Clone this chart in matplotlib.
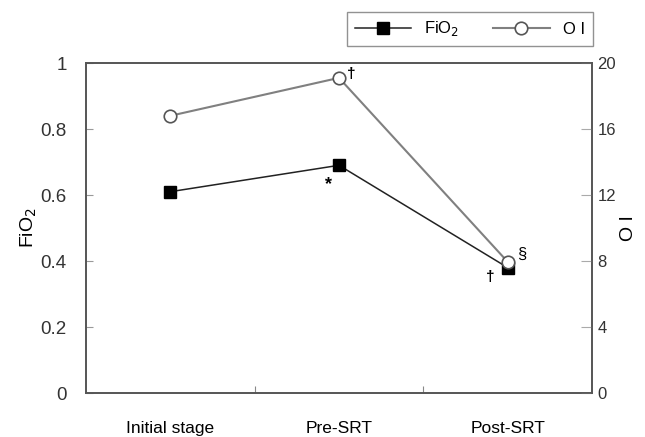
import matplotlib
matplotlib.use("Agg")
import matplotlib.pyplot as plt

plt.rcParams['font.family'] = ['Liberation Sans', 'DejaVu Sans']

categories = ["Initial stage", "Pre-SRT", "Post-SRT"]
fio2 = [0.61, 0.69, 0.38]
oi = [16.8, 19.1, 7.95]
fio2_ticks = [0, 0.2, 0.4, 0.6, 0.8, 1]
fio2_ticklabels = ["0", "0.2", "0.4", "0.6", "0.8", "1"]
oi_ticks = [0, 4, 8, 12, 16, 20]

fig = plt.figure(figsize=(6.45, 4.37), dpi=100)
W, H = 645, 437
ax = fig.add_axes([86 / W, 1 - 393 / H, (592 - 86) / W, (393 - 63) / H])
ax2 = ax.twinx()

x = list(range(len(categories)))
spine_c = "#555555"

l1, = ax.plot(x, fio2, color="#222222", lw=1.1, marker="s", ms=9,
              mfc="black", mec="black", zorder=3)
l2, = ax2.plot(x, oi, color="#808080", lw=1.5, marker="o", ms=9,
               mfc="white", mec="#555555", mew=1.2, zorder=4)

ax.set_xlim(-0.5, 2.5)
ax.set_ylim(0, 1)
ax2.set_ylim(0, 20)

ax.set_yticks(fio2_ticks)
ax.set_yticklabels(fio2_ticklabels, fontsize=13.5, color="#333333")
ax2.set_yticks(oi_ticks)
ax2.set_yticklabels([str(t) for t in oi_ticks], fontsize=12, color="#333333")

ax.set_xticks([0.5, 1.5])
ax.set_xticklabels([])
ax.set_xticks(x, minor=True)
ax.set_xticklabels(categories, minor=True, fontsize=12.5)
ax.tick_params(axis="x", which="minor", length=0, pad=20)
ax.tick_params(axis="x", which="major", direction="in", length=5, color="#888888")
ax.tick_params(axis="y", direction="in", length=5, color="#999999", pad=14)
ax2.tick_params(axis="y", direction="in", length=8, color="#aaaaaa", pad=4)

for a in (ax, ax2):
    for s in a.spines.values():
        s.set_color(spine_c)
        s.set_linewidth(1.2)

ax.set_ylabel("FiO$_2$", fontsize=14, labelpad=1)
ax2.set_ylabel("O I", fontsize=14, rotation=90, labelpad=3)

# significance marks
ax2.annotate("†", (1, oi[1]), xytext=(6, 0), textcoords="offset points",
             fontsize=11, fontweight="bold")
ax.annotate("*", (1, fio2[1]), xytext=(-10, -17), textcoords="offset points",
            fontsize=13, fontweight="bold")
ax.annotate("†", (2, fio2[2]), xytext=(-16, -10), textcoords="offset points",
            fontsize=11, fontweight="bold")
ax2.annotate("§", (2, oi[2]), xytext=(7, 2), textcoords="offset points",
             fontsize=12)

leg = fig.legend([l1, l2], ["FiO$_2$", "O I"], loc="upper left",
                 bbox_to_anchor=(347 / W, 1 - 12 / H), ncol=2, fontsize=12,
                 frameon=True, fancybox=False, edgecolor="#777777",
                 handlelength=3.4, columnspacing=2.0, borderpad=0.45,
                 borderaxespad=0)
leg.get_frame().set_linewidth(1.0)

fig.savefig("out.png", dpi=100)
